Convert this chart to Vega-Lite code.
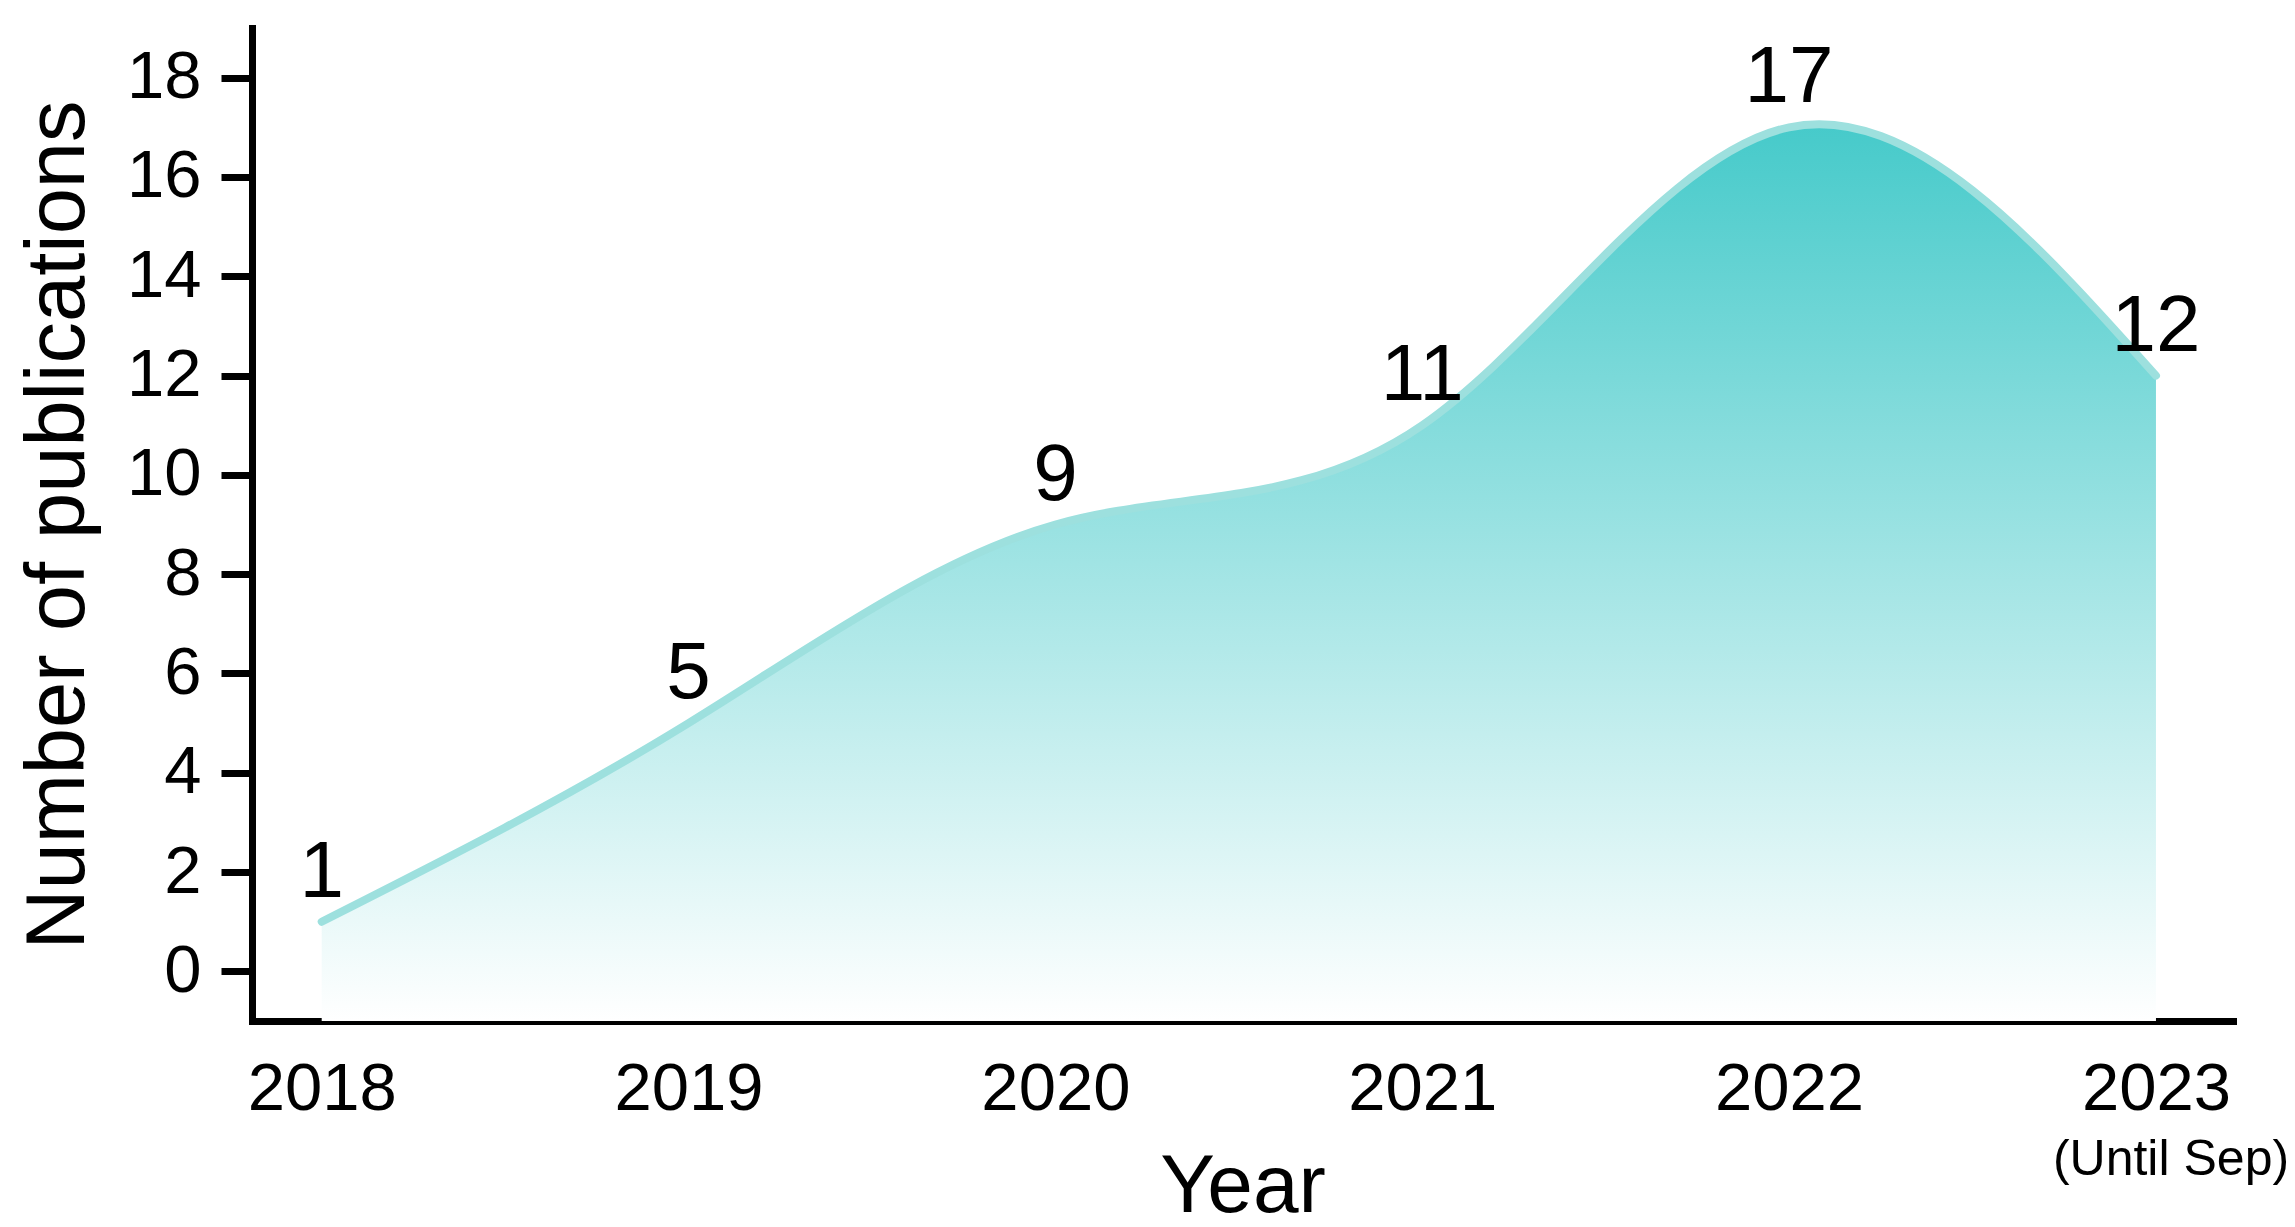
{
  "$schema": "https://vega.github.io/schema/vega-lite/v6.json",
  "width": 1981,
  "height": 993,
  "autosize": {"type": "none"},
  "padding": {"left": 252, "top": 28, "right": 62, "bottom": 206},
  "background": "white",
  "config": {"font": "Liberation Sans", "view": {"stroke": null}},
  "title": {
    "text": "(Until Sep)",
    "orient": "bottom",
    "anchor": "end",
    "align": "center",
    "frame": "group",
    "dx": -62,
    "offset": -92,
    "fontSize": 50,
    "fontWeight": "normal",
    "color": "black"
  },
  "data": {
    "values": [
      {"year": 2018, "count": 1},
      {"year": 2019, "count": 5},
      {"year": 2020, "count": 9},
      {"year": 2021, "count": 11},
      {"year": 2022, "count": 17},
      {"year": 2023, "count": 12}
    ]
  },
  "encoding": {
    "x": {
      "field": "year",
      "type": "quantitative",
      "scale": {"domain": [2017.81, 2023.21], "nice": false, "zero": false},
      "axis": {
        "title": "Year",
        "values": [2018, 2019, 2020, 2021, 2022, 2023],
        "format": "d",
        "grid": false,
        "ticks": false,
        "tickSize": 0,
        "labelFontSize": 67,
        "labelPadding": 35,
        "labelColor": "black",
        "labelFlush": false,
        "domainWidth": 7,
        "domainColor": "black",
        "domainCap": "square",
        "titleFontSize": 82,
        "titleFontWeight": "normal",
        "titleColor": "black",
        "titlePadding": 24
      }
    },
    "y": {
      "field": "count",
      "type": "quantitative",
      "scale": {"domain": [-1, 19], "nice": false, "zero": false},
      "axis": {
        "title": "Number of publications",
        "values": [0, 2, 4, 6, 8, 10, 12, 14, 16, 18],
        "grid": false,
        "tickSize": 31,
        "tickWidth": 7,
        "tickColor": "black",
        "labelFontSize": 67,
        "labelPadding": 20,
        "labelColor": "black",
        "labelFlush": false,
        "domainWidth": 7,
        "domainColor": "black",
        "domainCap": "square",
        "titleFontSize": 83,
        "titleFontWeight": "normal",
        "titleColor": "black",
        "titlePadding": 26
      }
    }
  },
  "layer": [
    {
      "mark": {
        "type": "area",
        "interpolate": "natural",
        "color": {
          "gradient": "linear",
          "x1": 1, "y1": 1, "x2": 1, "y2": 0,
          "stops": [
            {"offset": 0, "color": "#FFFFFF"},
            {"offset": 1, "color": "#46CACA"}
          ]
        }
      },
      "encoding": {"y2": {"datum": -1}}
    },
    {
      "mark": {"type": "line", "interpolate": "natural", "color": "#9DE0DE", "strokeWidth": 8, "strokeCap": "round"}
    },
    {
      "mark": {"type": "text", "fontSize": 80, "baseline": "alphabetic", "align": "center", "dy": -25, "color": "black"},
      "encoding": {"text": {"field": "count", "type": "quantitative"}}
    }
  ]
}
